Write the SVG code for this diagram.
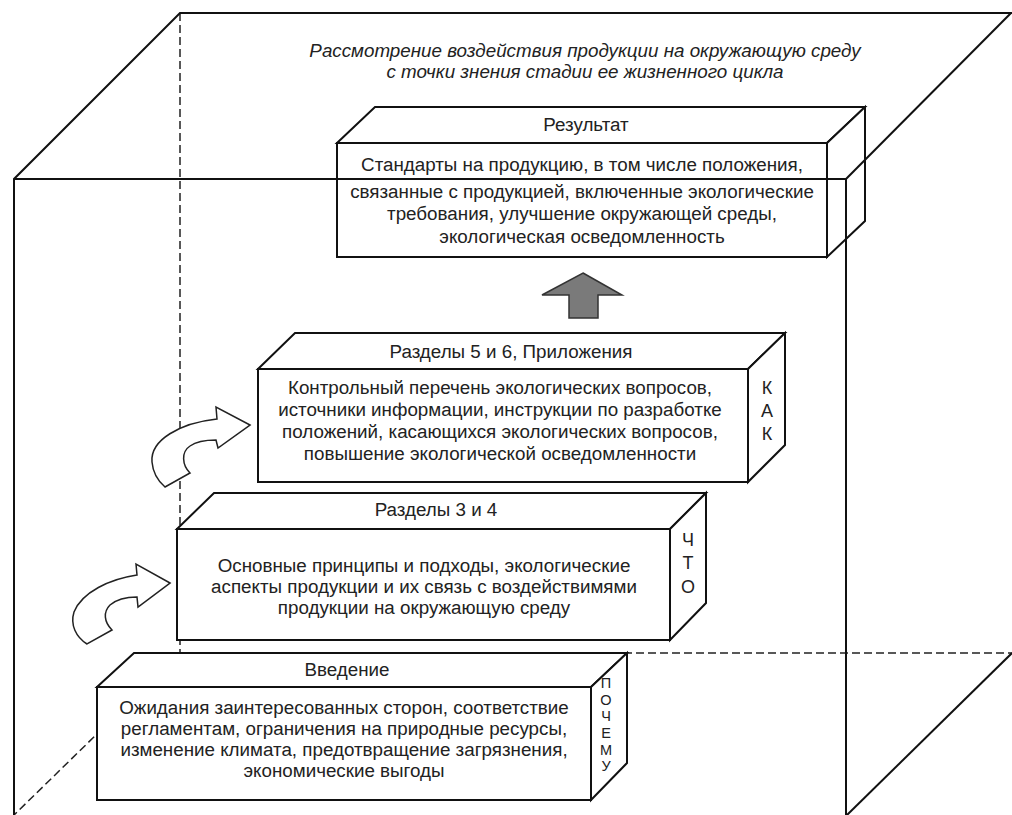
<svg xmlns="http://www.w3.org/2000/svg" width="1012" height="815" viewBox="0 0 1012 815">
<style>
.face{fill:#fff;stroke:#111;stroke-width:2;stroke-linejoin:miter}
.edge{fill:none;stroke:#111;stroke-width:2}
.hidden{fill:none;stroke:#222;stroke-width:1.5;stroke-dasharray:8 4}
.t{font-family:"Liberation Sans",Arial,sans-serif;font-size:18.8px;fill:#222;text-anchor:middle}
.title{font-family:"Liberation Sans",Arial,sans-serif;font-size:18.8px;font-style:italic;fill:#222;text-anchor:middle}
.v{font-family:"Liberation Sans",Arial,sans-serif;font-size:18px;fill:#222;text-anchor:middle}
.vs{font-family:"Liberation Sans",Arial,sans-serif;font-size:14.5px;fill:#222;text-anchor:middle}
.curve{fill:#fff;stroke:#222;stroke-width:1.5;stroke-linejoin:miter}
</style>
<rect width="1012" height="815" fill="#fff"/>
<g id="hidden-edges">
<line class="hidden" x1="180" y1="13" x2="180" y2="653"/>
<line class="hidden" x1="180" y1="653" x2="1012" y2="653"/>
<line class="hidden" x1="180" y1="653" x2="14" y2="815"/>
</g>
<g id="node-intro">
<polygon class="face" points="97,687 134,653 627,653 591,687"/>
<polygon class="face" points="591,687 627,653 627,763 591,800"/>
<rect class="face" x="97" y="687" width="494" height="113"/>
<text class="t" x="347" y="676">Введение</text>
<text class="t" x="344" y="714">Ожидания заинтересованных сторон, соответствие</text>
<text class="t" x="344" y="735">регламентам, ограничения на природные ресурсы,</text>
<text class="t" x="344" y="756">изменение климата, предотвращение загрязнения,</text>
<text class="t" x="344" y="777">экономические выгоды</text>
<text class="vs" x="606" y="688">П</text>
<text class="vs" x="606" y="705">О</text>
<text class="vs" x="606" y="721">Ч</text>
<text class="vs" x="606" y="738">Е</text>
<text class="vs" x="606" y="755">М</text>
<text class="vs" x="606" y="771">У</text>
</g>
<g id="node-sections34">
<polygon class="face" points="177,529 214,493 706,493 670,529"/>
<polygon class="face" points="670,529 706,493 706,603 670,640"/>
<rect class="face" x="177" y="529" width="493" height="111"/>
<text class="t" x="436" y="516">Разделы 3 и 4</text>
<text class="t" x="424" y="572">Основные принципы и подходы, экологические</text>
<text class="t" x="424" y="593">аспекты продукции и их связь с воздействимями</text>
<text class="t" x="424" y="614">продукции на окружающую среду</text>
<text class="v" x="688" y="546">Ч</text>
<text class="v" x="688" y="569">Т</text>
<text class="v" x="688" y="593">О</text>
</g>
<g id="node-sections56">
<polygon class="face" points="258,369 295,333 785,333 748,369"/>
<polygon class="face" points="748,369 785,333 785,445 748,482"/>
<rect class="face" x="258" y="369" width="490" height="113"/>
<text class="t" x="511" y="358">Разделы 5 и 6, Приложения</text>
<text class="t" x="500" y="394">Контрольный перечень экологических вопросов,</text>
<text class="t" x="500" y="416">источники информации, инструкции по разработке</text>
<text class="t" x="500" y="438">положений, касающихся экологических вопросов,</text>
<text class="t" x="500" y="460">повышение экологической осведомленности</text>
<text class="v" x="767" y="394">К</text>
<text class="v" x="767" y="417">А</text>
<text class="v" x="767" y="440">К</text>
</g>
<g id="node-result">
<polygon class="face" points="337,143 375,107 865,107 827,143"/>
<polygon class="face" points="827,143 865,107 865,221 827,257"/>
<rect class="face" x="337" y="143" width="490" height="114"/>
<text class="t" x="586" y="131">Результат</text>
<text class="t" x="582" y="171">Стандарты на продукцию, в том числе положения,</text>
<text class="t" x="582" y="198">связанные с продукцией, включенные экологические</text>
<text class="t" x="582" y="220">требования, улучшение окружающей среды,</text>
<text class="t" x="582" y="243">экологическая осведомленность</text>
</g>
<g id="cube-edges">
<polyline class="edge" points="14,815 14,179 180,13 1012,13"/>
<line class="edge" x1="14" y1="179" x2="846" y2="179"/>
<line class="edge" x1="1011" y1="13" x2="846" y2="179"/>
<line class="edge" x1="846" y1="179" x2="846" y2="815"/>
<line class="edge" x1="1012" y1="653" x2="847" y2="815"/>
</g>
<g id="title">
<text class="title" x="585" y="57">Рассмотрение воздействия продукции на окружающую среду</text>
<text class="title" x="585" y="78">с точки знения стадии ее жизненного цикла</text>
</g>
<g id="connectors">
<polygon points="583,273 622,295 598,295 598,318 569,318 569,295 542,295" fill="#7a7a7a" stroke="#333" stroke-width="1.5"/>
<path class="curve" d="M250,425 L216,407 L217,419 C180,423 150,440 152,462 C153,474 158,481 165,487 L190,473 C182,465 181,452 190,446 C197,441 207,440 216,440 L218,448 Z"/>
<path class="curve" d="M170,583 L136,564 L137,575 C110,579 82,592 74,612 C70,625 76,637 87,644 L112,630 C104,622 103,612 110,605 C117,599 127,597 137,597 L138,607 Z"/>
</g>
</svg>
